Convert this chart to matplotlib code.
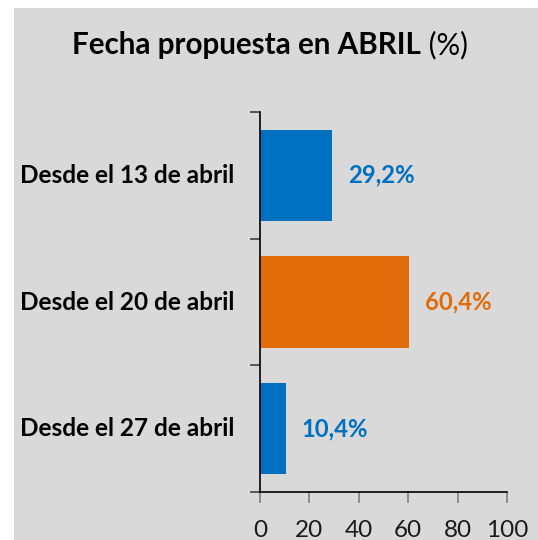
import matplotlib
matplotlib.use("Agg")
import matplotlib.pyplot as plt
from matplotlib.patches import Rectangle

categories = ["Desde el 13 de abril", "Desde el 20 de abril", "Desde el 27 de abril"]
values = [29.2, 60.4, 10.4]
value_labels = ["29,2%", "60,4%", "10,4%"]
x_ticks = [0, 20, 40, 60, 80, 100]

BLUE = "#0070C0"
ORANGE = "#E36C0A"
BG = "#D9D9D9"
colors = [BLUE, ORANGE, BLUE]

plt.rcParams['font.family'] = ['Lato', 'DejaVu Sans']

W, H = 538, 540
fig = plt.figure(figsize=(W / 100, H / 100), dpi=100)
fig.patch.set_facecolor("white")
fig.patches.append(Rectangle((14 / W, 0), 1 - 14 / W, 1 - 8 / H, transform=fig.transFigure,
                             facecolor=BG, edgecolor="none", zorder=-10))

ax = fig.add_axes([260 / W, 1 - 492 / H, (507 - 260) / W, (492 - 112) / H])
ax.patch.set_alpha(0)

ypos = list(range(len(categories)))
ax.barh(ypos, values, height=0.72, color=colors, zorder=2)
ax.set_xlim(0, 100)
ax.set_ylim(len(categories) - 0.5, -0.5)

for sp in ["top", "right"]:
    ax.spines[sp].set_visible(False)
for sp in ["left", "bottom"]:
    ax.spines[sp].set_color("black")
    ax.spines[sp].set_linewidth(1.2)

ax.set_xticks(x_ticks)
ax.set_xticklabels([str(t) for t in x_ticks], fontsize=17.5, color="#1a1a1a")
ax.tick_params(axis="x", direction="out", length=8, width=1.2, color="#7f7f7f", pad=12)

bounds = [i - 0.5 for i in range(len(categories) + 1)]
ax.set_yticks(bounds)
ax.set_yticklabels([""] * len(bounds))
ax.tick_params(axis="y", direction="out", length=7, width=1.2, color="#404040")

for i, (cat, v, lab, c) in enumerate(zip(categories, values, value_labels, colors)):
    ax.annotate(cat, xy=(0, i), xycoords="data", xytext=(-26, 0), textcoords="offset pixels",
                ha="right", va="center", fontsize=17.6, fontweight="bold", color="black")
    ax.annotate(lab, xy=(v, i), xycoords="data", xytext=(16, 0), textcoords="offset pixels",
                ha="left", va="center", fontsize=17.2, fontweight="bold", color=c)

# Title: bold part + regular part, centered together
renderer = fig.canvas.get_renderer()
t1 = fig.text(0, 1 - 45 / H, "Fecha propuesta en ABRIL", fontsize=21.3, fontweight="bold",
              ha="left", va="center", color="black")
t2 = fig.text(0, 1 - 45 / H, " (%)", fontsize=21.3, ha="left", va="center", color="black")
w1 = t1.get_window_extent(renderer).width
w2 = t2.get_window_extent(renderer).width
start = (W - (w1 + w2)) / 2 + 1
t1.set_x(start / W)
t2.set_x((start + w1) / W)

fig.savefig("out.png", dpi=100, facecolor=fig.get_facecolor())
